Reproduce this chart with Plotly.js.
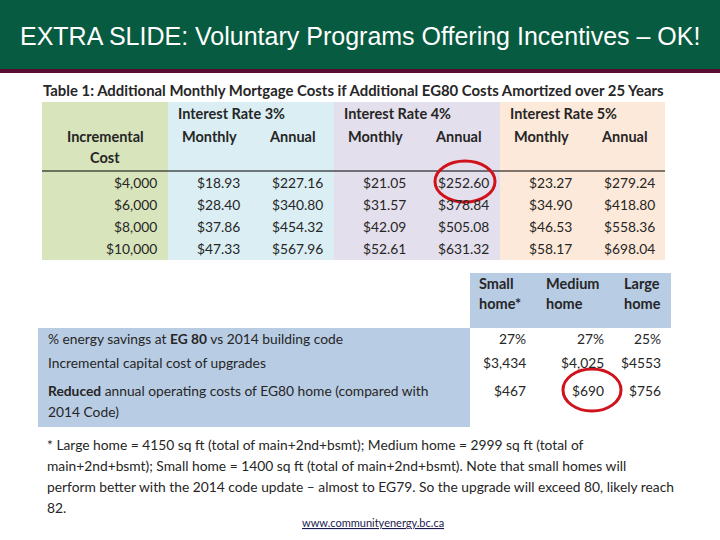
<!DOCTYPE html>
<html>
<head>
<meta charset="utf-8">
<script src="https://cdn.plot.ly/plotly-3.0.1.min.js"></script>
<style>html,body{margin:0;padding:0;background:#fff;}#chart{width:720px;height:540px;}</style>
</head>
<body>
<div id="chart"></div>
<script>
// ---- data ----
var slideTitle = "EXTRA SLIDE: Voluntary Programs Offering Incentives – OK!";
var table1Title = "Table 1: Additional Monthly Mortgage Costs if Additional EG80 Costs Amortized over 25 Years";
var incrementalCost = ["$4,000", "$6,000", "$8,000", "$10,000"];
var interestRates = ["Interest Rate 3%", "Interest Rate 4%", "Interest Rate 5%"];
var monthly3 = [18.93, 28.40, 37.86, 47.33];
var annual3 = [227.16, 340.80, 454.32, 567.96];
var monthly4 = [21.05, 31.57, 42.09, 52.61];
var annual4 = [252.60, 378.84, 505.08, 631.32];
var monthly5 = [23.27, 34.90, 46.53, 58.17];
var annual5 = [279.24, 418.80, 558.36, 698.04];

var homeTypes = [["Small", "home*"], ["Medium", "home"], ["Large", "home"]];
var rowLabels = [
  ["% energy savings at <b>EG 80</b> vs 2014 building code"],
  ["Incremental capital cost of upgrades"],
  ["<b>Reduced</b> annual operating costs of EG80 home (compared with", "2014 Code)"]
];
var energySavings = ["27%", "27%", "25%"];
var capitalCost = ["$3,434", "$4,025", "$4553"];
var reducedCost = ["$467", "$690", "$756"];
var footnote = [
  "* Large home = 4150 sq ft (total of main+2nd+bsmt); Medium home = 2999 sq ft (total of",
  "main+2nd+bsmt); Small home = 1400 sq ft (total of main+2nd+bsmt). Note that small homes will",
  "perform better with the 2014 code update – almost to EG79. So the upgrade will exceed 80, likely reach",
  "82."
];
var sourceUrl = "www.communityenergy.bc.ca";

// ---- layout helpers ----
var FONT = "Lato, 'Open Sans', sans-serif";
var TXT = "#262626";
var REG = 13.8, BOLD = 14.5;
var shapes = [];
var ann = [];
function rect(x0, x1, y0, y1, color) {
  shapes.push({type: "rect", xref: "x", yref: "y", x0: x0, x1: x1, y0: y0, y1: y1,
    fillcolor: color, line: {width: 0}, layer: "below"});
}
function text(t, x, y, anchor, size, bold, color, fam) {
  ann.push({text: bold ? "<b>" + t + "</b>" : t, x: x, y: y, xref: "x", yref: "y",
    xanchor: anchor, yanchor: "middle", showarrow: false,
    font: {family: fam || FONT, size: size, color: color || TXT}});
}
function money(v) { return "$" + v.toFixed(2); }

// slide header
shapes.push({type: "rect", xref: "paper", yref: "y", x0: 0, x1: 1, y0: 0, y1: 69,
  fillcolor: "#075b40", line: {width: 0}, layer: "below"});
shapes.push({type: "rect", xref: "paper", yref: "y", x0: 0, x1: 1, y0: 69, y1: 73,
  fillcolor: "#5a0c33", line: {width: 0}, layer: "below"});
text(slideTitle, 360, 36, "center", 25, false, "#ffffff", "'Liberation Sans', Arial, sans-serif");

// ---- Table 1 ----
text(table1Title, 41, 90, "left", 14.9, true);
var bandX = [42, 168, 334, 500, 665];
var bandColors = ["#d8e4bc", "#daeef3", "#e4dfec", "#fde9d9"];
for (var b = 0; b < 4; b++) rect(bandX[b], bandX[b + 1], 102, 260, bandColors[b]);
shapes.push({type: "line", xref: "x", yref: "y", x0: 42, x1: 665, y0: 171, y1: 171,
  line: {color: "#000000", width: 1}});

var rowY = [182, 204, 226, 248];
text("Incremental", 105, 136, "center", BOLD, true);
text("Cost", 105, 157, "center", BOLD, true);
incrementalCost.forEach(function (c, i) { text(c, 159, rowY[i], "right", REG, false); });

var monthlySets = [monthly3, monthly4, monthly5];
var annualSets = [annual3, annual4, annual5];
for (var g = 0; g < 3; g++) {
  var left = bandX[g + 1];
  text(interestRates[g], left + 8, 113, "left", BOLD, true);
  text("Monthly", left + 41, 136, "center", BOLD, true);
  text("Annual", left + 124, 136, "center", BOLD, true);
  for (var r = 0; r < 4; r++) {
    text(money(monthlySets[g][r]), left + 74, rowY[r], "right", REG, false);
    text(money(annualSets[g][r]), left + 157, rowY[r], "right", REG, false);
  }
}
// highlight circle around 4% annual, first row
var cx1 = bandX[2] + 131, cy1 = rowY[0];
shapes.push({type: "circle", xref: "x", yref: "y", x0: cx1 - 30, x1: cx1 + 30, y0: cy1 - 21, y1: cy1 + 20,
  line: {color: "#d0121b", width: 3}});

// ---- Table 2 ----
rect(470, 671, 273, 328, "#b8cce4");
rect(38, 470, 328, 427, "#b8cce4");
var colLeft = [477, 544, 622];
var colRight = [528, 606, 663];
homeTypes.forEach(function (h, i) {
  text(h[0], colLeft[i], 283, "left", BOLD, true);
  text(h[1], colLeft[i], 303, "left", BOLD, true);
});
var labelY = [[338], [362], [390, 411]];
rowLabels.forEach(function (lines, i) {
  lines.forEach(function (l, j) { text(l, 46, labelY[i][j], "left", REG, false); });
});
var t2Rows = [energySavings, capitalCost, reducedCost];
t2Rows.forEach(function (vals, i) {
  vals.forEach(function (v, j) { text(v, colRight[j], labelY[i][0], "right", REG, false); });
});
var cx2 = (colLeft[1] + colRight[1]) / 2 + 17, cy2 = labelY[2][0];
shapes.push({type: "circle", xref: "x", yref: "y", x0: cx2 - 29, x1: cx2 + 29, y0: cy2 - 21, y1: cy2 + 21,
  line: {color: "#d0121b", width: 3}});

// ---- footnote ----
var footY = [444, 465, 486, 507];
footnote.forEach(function (l, i) { text(l, 45, footY[i], "left", REG, false); });
text("<u>" + sourceUrl + "</u>", 373, 522, "center", 11, false, "#1a1a50");

var layout = {
  width: 720, height: 540,
  margin: {l: 0, r: 0, t: 0, b: 0},
  paper_bgcolor: "#ffffff", plot_bgcolor: "#ffffff",
  xaxis: {range: [0, 720], visible: false, fixedrange: true},
  yaxis: {range: [540, 0], visible: false, fixedrange: true},
  showlegend: false,
  shapes: shapes,
  annotations: ann
};
Plotly.newPlot("chart", [], layout, {staticPlot: true, displayModeBar: false});
</script>
</body>
</html>
